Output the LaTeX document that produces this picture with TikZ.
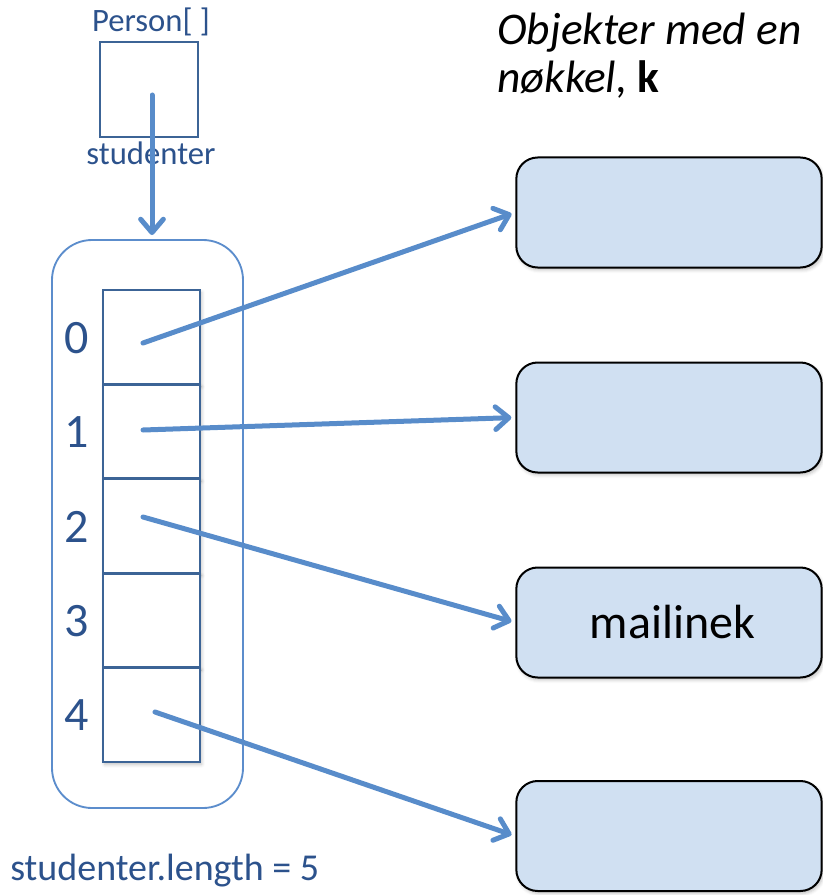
\documentclass[tikz,border=0pt]{standalone}
\usepackage{fontspec}
\setmainfont{Carlito}
\usetikzlibrary{arrows.meta,shadows.blur}
\definecolor{textblue}{RGB}{44,82,140}
\definecolor{cellblue}{RGB}{60,100,150}
\definecolor{contblue}{RGB}{92,141,204}
\definecolor{arrowblue}{RGB}{88,140,202}
\definecolor{boxfill}{RGB}{208,224,242}
\begin{document}
\begin{tikzpicture}[x=0.75pt,y=-0.75pt,
  softshadow/.style={blur shadow={shadow xshift=1.2pt,shadow yshift=-1.8pt,shadow opacity=25,shadow blur radius=2.5pt}},
  ptrbox/.style={draw=cellblue,line width=1.6pt,minimum width=73.5pt,minimum height=71.25pt,inner sep=0pt},
  cell/.style={draw=cellblue,fill=white,line width=2pt,minimum width=72.75pt,minimum height=70.8pt,inner sep=0pt,softshadow},
  objbox/.style={draw=black,line width=1.5pt,fill=boxfill,rounded corners=16pt,minimum width=229pt,minimum height=82.5pt,inner sep=0pt,softshadow},
  ref/.style={draw=arrowblue,line width=3.75pt,line cap=round,shorten >=3pt,
    -{Straight Barb[length=10pt,width=17pt,line cap=round,line join=round]}},
  lbl/.style={text=textblue,font=\fontsize{24.5}{28}\selectfont,inner sep=0pt},
  idx/.style={text=textblue,font=\fontsize{36}{40}\selectfont,inner sep=0pt},
  head/.style={font=\fontsize{34}{38}\selectfont\itshape,inner sep=0pt,anchor=base west},
]
\useasboundingbox (0,0) rectangle (822,895);

% reference variable
\node[lbl,anchor=base] (ptype) at (151,32) {Person[ ]};
\node[ptrbox] (ptr) at (149,89.5) {};
\node[lbl,anchor=base] (pname) at (151,165) {studenter};
\coordinate (ptail) at (152,95);

% array object
\node[draw=contblue,line width=1.4pt,rounded corners=30pt,minimum width=143.25pt,minimum height=426pt,inner sep=0pt] (arr) at (147.5,524) {};
\foreach \i in {0,...,4}{
  \node[cell] (c\i) at (151.5,{290+94.4*(\i+0.5)}) {};
  \node[idx,anchor=base] (n\i) at (77,{290+94.4*(\i+0.5)+16}) {\i};
}
\node[text=textblue,font=\fontsize{28.5}{32}\selectfont,inner sep=0pt,anchor=base west] (len) at (10,880) {studenter.length = 5};

% objects
\node[head] (h1) at (497,45) {Objekter med en};
\node[head] (h2) at (497,93) {nøkkel, {\upshape\bfseries k}};
\node[objbox] (o0) at (669,212.5) {};
\node[objbox] (o1) at (669,417.5) {};
\node[objbox,font=\fontsize{36}{40}\selectfont] (o2) at (669,622.5) {\hspace*{5pt}mailinek};
\node[objbox] (o3) at (669,836) {};

% references
\coordinate (s0) at (143,343);
\coordinate (s1) at (143,430);
\coordinate (s2) at (143,517);
\coordinate (s4) at (155,712);
\draw[ref] (ptail) -- (ptail |- arr.north);
\draw[ref] (s0) -- (o0.west);
\draw[ref] (s1) -- (o1.west);
\draw[ref] (s2) -- (o2.west);
\draw[ref] (s4) -- (o3.west);
\end{tikzpicture}
\end{document}
